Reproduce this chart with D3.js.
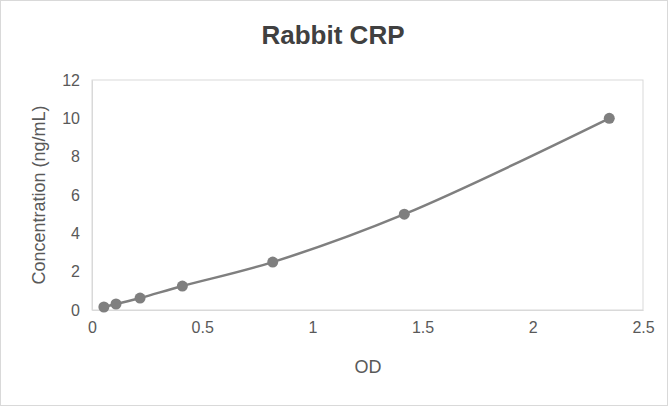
<!DOCTYPE html>
<html><head><meta charset="utf-8">
<script src="https://cdn.jsdelivr.net/npm/d3@7"></script>
<style>body{margin:0;background:#fff;font-family:Arial,"Liberation Sans",sans-serif;}</style>
</head><body><div id="grafico"></div>
<script>
const OD = [0.054, 0.109, 0.218, 0.41, 0.82, 1.417, 2.347];
const CONC = [0.156, 0.3125, 0.625, 1.25, 2.5, 5, 10];
const X_TICKS = [0, 0.5, 1, 1.5, 2, 2.5];
const Y_TICKS = [0, 2, 4, 6, 8, 10, 12];

const WIDTH = 668, HEIGHT = 406;
const X0 = 92, X1 = 643, Y0 = 310, Y1 = 80;
const svg = d3.select("#grafico").append("svg").attr("width", WIDTH).attr("height", HEIGHT);

svg.append("rect").attr("x", 0.5).attr("y", 0.5).attr("width", WIDTH - 1).attr("height", HEIGHT - 1)
    .attr("fill", "#fff").attr("stroke", "#d9d9d9");

const x = d3.scaleLinear().domain([0, 2.5]).range([X0, X1]);
const y = d3.scaleLinear().domain([0, 12]).range([Y0, Y1]);

// borde del área de gráfico
svg.append("rect").attr("x", X0).attr("y", Y1).attr("width", X1 - X0).attr("height", Y0 - Y1)
    .attr("fill", "none").attr("stroke", "#d9d9d9");

const ejeX = svg.append("g").attr("transform", "translate(0," + Y0 + ")")
    .call(d3.axisBottom(x).tickValues(X_TICKS).tickSize(0).tickPadding(12).tickFormat(d => d));
const ejeY = svg.append("g").attr("transform", "translate(" + X0 + ",0)")
    .call(d3.axisLeft(y).tickValues(Y_TICKS).tickSize(0).tickPadding(12));
[ejeX, ejeY].forEach(g => {
    g.select(".domain").attr("stroke", "#d9d9d9");
    g.selectAll("text").attr("fill", "#595959").style("font-size", "16px").style("font-family", "Arial, 'Liberation Sans', sans-serif");
});

const datos = OD.map((d, i) => [d, CONC[i]]);
svg.append("path").datum(datos)
    .attr("d", d3.line().x(d => x(d[0])).y(d => y(d[1])).curve(d3.curveCatmullRom))
    .attr("fill", "none").attr("stroke", "#7f7f7f").attr("stroke-width", 2.5);
svg.selectAll("circle").data(datos).enter().append("circle")
    .attr("cx", d => x(d[0])).attr("cy", d => y(d[1])).attr("r", 5.5).attr("fill", "#7f7f7f");

svg.append("text").attr("x", 333).attr("y", 44).attr("text-anchor", "middle")
    .style("font-size", "26px").style("font-weight", "bold").attr("fill", "#404040").text("Rabbit CRP");
svg.append("text").attr("x", 368).attr("y", 373).attr("text-anchor", "middle")
    .style("font-size", "18px").attr("fill", "#595959").text("OD");
svg.append("text").attr("transform", "translate(45,195) rotate(-90)").attr("text-anchor", "middle")
    .style("font-size", "18px").attr("fill", "#595959").text("Concentration (ng/mL)");
</script></body></html>
